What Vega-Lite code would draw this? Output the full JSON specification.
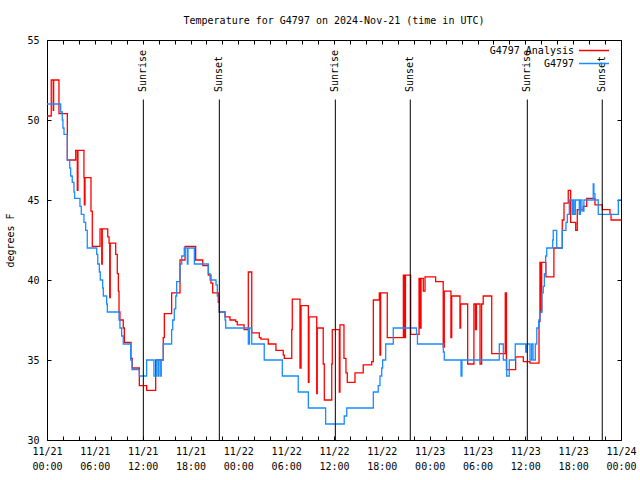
{
  "$schema": "https://vega.github.io/schema/vega-lite/v6.json",
  "width": 574,
  "height": 400,
  "autosize": "none",
  "padding": {"left": 47, "top": 40, "right": 19, "bottom": 40},
  "background": "white",
  "title": {"text": "Temperature for G4797 on 2024-Nov-21 (time in UTC)", "anchor": "middle", "frame": "group", "offset": 9},
  "datasets": {
    "analysis": [
      {"t": "2024-11-21T00:00Z", "v": 50.25}, {"t": "2024-11-21T00:32Z", "v": 52.5}, {"t": "2024-11-21T00:47Z", "v": 50.6}, {"t": "2024-11-21T00:50Z", "v": 52.5},
      {"t": "2024-11-21T01:30Z", "v": 50.4}, {"t": "2024-11-21T02:33Z", "v": 47.5}, {"t": "2024-11-21T03:36Z", "v": 48.1}, {"t": "2024-11-21T03:48Z", "v": 45.6},
      {"t": "2024-11-21T03:53Z", "v": 48.1}, {"t": "2024-11-21T04:38Z", "v": 46.4}, {"t": "2024-11-21T04:41Z", "v": 44.7}, {"t": "2024-11-21T04:46Z", "v": 46.4},
      {"t": "2024-11-21T05:31Z", "v": 44.3}, {"t": "2024-11-21T05:41Z", "v": 42.1}, {"t": "2024-11-21T06:39Z", "v": 43.2}, {"t": "2024-11-21T06:52Z", "v": 41.0},
      {"t": "2024-11-21T06:56Z", "v": 43.2}, {"t": "2024-11-21T07:37Z", "v": 42.7}, {"t": "2024-11-21T07:47Z", "v": 42.3}, {"t": "2024-11-21T07:52Z", "v": 38.9},
      {"t": "2024-11-21T07:56Z", "v": 42.3}, {"t": "2024-11-21T08:37Z", "v": 41.6}, {"t": "2024-11-21T08:49Z", "v": 40.4}, {"t": "2024-11-21T08:57Z", "v": 39.3},
      {"t": "2024-11-21T09:02Z", "v": 38.0}, {"t": "2024-11-21T09:09Z", "v": 37.5}, {"t": "2024-11-21T09:34Z", "v": 37.0}, {"t": "2024-11-21T09:42Z", "v": 36.1},
      {"t": "2024-11-21T10:32Z", "v": 35.1}, {"t": "2024-11-21T10:42Z", "v": 34.5}, {"t": "2024-11-21T11:35Z", "v": 33.4}, {"t": "2024-11-21T12:30Z", "v": 33.1},
      {"t": "2024-11-21T13:38Z", "v": 35.0}, {"t": "2024-11-21T14:35Z", "v": 36.4}, {"t": "2024-11-21T14:43Z", "v": 37.9}, {"t": "2024-11-21T15:38Z", "v": 39.2},
      {"t": "2024-11-21T16:41Z", "v": 41.25}, {"t": "2024-11-21T17:19Z", "v": 42.1}, {"t": "2024-11-21T18:39Z", "v": 41.25}, {"t": "2024-11-21T19:32Z", "v": 40.9},
      {"t": "2024-11-21T20:14Z", "v": 40.3}, {"t": "2024-11-21T20:34Z", "v": 39.8}, {"t": "2024-11-21T20:47Z", "v": 39.2}, {"t": "2024-11-21T21:29Z", "v": 38.6},
      {"t": "2024-11-21T21:37Z", "v": 38.0}, {"t": "2024-11-21T22:20Z", "v": 37.7}, {"t": "2024-11-21T22:57Z", "v": 37.5}, {"t": "2024-11-21T23:40Z", "v": 37.4},
      {"t": "2024-11-21T23:52Z", "v": 37.2}, {"t": "2024-11-22T00:43Z", "v": 36.9}, {"t": "2024-11-22T01:15Z", "v": 40.5}, {"t": "2024-11-22T01:41Z", "v": 36.7},
      {"t": "2024-11-22T02:38Z", "v": 36.4}, {"t": "2024-11-22T02:50Z", "v": 36.3}, {"t": "2024-11-22T03:45Z", "v": 36.0}, {"t": "2024-11-22T04:43Z", "v": 35.6},
      {"t": "2024-11-22T05:38Z", "v": 35.3}, {"t": "2024-11-22T05:46Z", "v": 35.1}, {"t": "2024-11-22T06:42Z", "v": 36.9}, {"t": "2024-11-22T06:46Z", "v": 38.8},
      {"t": "2024-11-22T07:44Z", "v": 34.5}, {"t": "2024-11-22T07:52Z", "v": 38.4}, {"t": "2024-11-22T08:47Z", "v": 33.6}, {"t": "2024-11-22T08:52Z", "v": 37.7},
      {"t": "2024-11-22T09:50Z", "v": 32.9}, {"t": "2024-11-22T09:54Z", "v": 37.0}, {"t": "2024-11-22T10:39Z", "v": 34.75}, {"t": "2024-11-22T10:47Z", "v": 32.5},
      {"t": "2024-11-22T11:43Z", "v": 34.75}, {"t": "2024-11-22T11:47Z", "v": 36.9}, {"t": "2024-11-22T12:40Z", "v": 33.0}, {"t": "2024-11-22T12:45Z", "v": 37.2},
      {"t": "2024-11-22T13:15Z", "v": 35.1}, {"t": "2024-11-22T13:30Z", "v": 34.2}, {"t": "2024-11-22T13:40Z", "v": 33.6}, {"t": "2024-11-22T14:38Z", "v": 34.2},
      {"t": "2024-11-22T15:40Z", "v": 34.7}, {"t": "2024-11-22T16:44Z", "v": 34.9}, {"t": "2024-11-22T16:56Z", "v": 38.75}, {"t": "2024-11-22T17:41Z", "v": 39.2},
      {"t": "2024-11-22T17:46Z", "v": 35.3}, {"t": "2024-11-22T17:51Z", "v": 39.2}, {"t": "2024-11-22T18:41Z", "v": 36.4}, {"t": "2024-11-22T20:42Z", "v": 40.3},
      {"t": "2024-11-22T20:51Z", "v": 36.4}, {"t": "2024-11-22T20:58Z", "v": 40.3}, {"t": "2024-11-22T21:37Z", "v": 36.6}, {"t": "2024-11-22T22:40Z", "v": 40.1},
      {"t": "2024-11-22T22:47Z", "v": 37.0}, {"t": "2024-11-22T22:55Z", "v": 40.1}, {"t": "2024-11-22T23:12Z", "v": 39.3}, {"t": "2024-11-22T23:25Z", "v": 40.2},
      {"t": "2024-11-23T00:45Z", "v": 39.9}, {"t": "2024-11-23T01:42Z", "v": 35.8}, {"t": "2024-11-23T01:50Z", "v": 39.3}, {"t": "2024-11-23T02:40Z", "v": 36.4},
      {"t": "2024-11-23T02:46Z", "v": 39.0}, {"t": "2024-11-23T03:48Z", "v": 37.0}, {"t": "2024-11-23T03:53Z", "v": 38.5}, {"t": "2024-11-23T04:46Z", "v": 34.75},
      {"t": "2024-11-23T05:33Z", "v": 38.5}, {"t": "2024-11-23T05:45Z", "v": 36.9}, {"t": "2024-11-23T05:52Z", "v": 38.5}, {"t": "2024-11-23T06:19Z", "v": 34.75},
      {"t": "2024-11-23T06:31Z", "v": 38.5}, {"t": "2024-11-23T06:43Z", "v": 39.0}, {"t": "2024-11-23T07:47Z", "v": 35.4}, {"t": "2024-11-23T09:29Z", "v": 39.2},
      {"t": "2024-11-23T09:38Z", "v": 34.4}, {"t": "2024-11-23T10:47Z", "v": 35.2}, {"t": "2024-11-23T11:45Z", "v": 34.9}, {"t": "2024-11-23T12:35Z", "v": 34.8},
      {"t": "2024-11-23T13:43Z", "v": 37.4}, {"t": "2024-11-23T13:50Z", "v": 41.1}, {"t": "2024-11-23T13:58Z", "v": 38.0}, {"t": "2024-11-23T14:03Z", "v": 41.1},
      {"t": "2024-11-23T14:35Z", "v": 40.2}, {"t": "2024-11-23T15:35Z", "v": 42.0}, {"t": "2024-11-23T16:38Z", "v": 43.75}, {"t": "2024-11-23T16:51Z", "v": 44.8},
      {"t": "2024-11-23T17:23Z", "v": 45.6}, {"t": "2024-11-23T17:41Z", "v": 43.6}, {"t": "2024-11-23T18:19Z", "v": 43.1}, {"t": "2024-11-23T18:31Z", "v": 44.4},
      {"t": "2024-11-23T19:16Z", "v": 44.6}, {"t": "2024-11-23T19:42Z", "v": 45.1}, {"t": "2024-11-23T20:44Z", "v": 44.7}, {"t": "2024-11-23T21:39Z", "v": 44.4},
      {"t": "2024-11-23T22:37Z", "v": 44.1}, {"t": "2024-11-23T22:45Z", "v": 43.75}, {"t": "2024-11-24T00:00Z", "v": 43.75}
    ],
    "obs": [
      {"t": "2024-11-21T00:00Z", "v": 51.0}, {"t": "2024-11-21T01:43Z", "v": 50.5}, {"t": "2024-11-21T01:55Z", "v": 50.0}, {"t": "2024-11-21T02:00Z", "v": 49.5},
      {"t": "2024-11-21T02:08Z", "v": 49.1}, {"t": "2024-11-21T02:33Z", "v": 47.5}, {"t": "2024-11-21T02:51Z", "v": 47.0}, {"t": "2024-11-21T02:58Z", "v": 46.5},
      {"t": "2024-11-21T03:10Z", "v": 46.1}, {"t": "2024-11-21T03:23Z", "v": 45.5}, {"t": "2024-11-21T03:28Z", "v": 45.1}, {"t": "2024-11-21T04:08Z", "v": 44.6},
      {"t": "2024-11-21T04:18Z", "v": 44.1}, {"t": "2024-11-21T04:38Z", "v": 43.6}, {"t": "2024-11-21T04:51Z", "v": 43.1}, {"t": "2024-11-21T05:03Z", "v": 42.0},
      {"t": "2024-11-21T06:14Z", "v": 41.6}, {"t": "2024-11-21T06:22Z", "v": 41.0}, {"t": "2024-11-21T06:34Z", "v": 40.5}, {"t": "2024-11-21T06:41Z", "v": 40.0},
      {"t": "2024-11-21T06:59Z", "v": 39.5}, {"t": "2024-11-21T07:04Z", "v": 39.0}, {"t": "2024-11-21T07:29Z", "v": 38.5}, {"t": "2024-11-21T07:34Z", "v": 38.0},
      {"t": "2024-11-21T09:02Z", "v": 37.5}, {"t": "2024-11-21T09:09Z", "v": 37.0}, {"t": "2024-11-21T09:22Z", "v": 36.5}, {"t": "2024-11-21T09:34Z", "v": 36.0},
      {"t": "2024-11-21T10:30Z", "v": 35.0}, {"t": "2024-11-21T10:40Z", "v": 34.4}, {"t": "2024-11-21T11:35Z", "v": 34.0}, {"t": "2024-11-21T12:30Z", "v": 35.0},
      {"t": "2024-11-21T13:25Z", "v": 34.0}, {"t": "2024-11-21T13:46Z", "v": 35.0}, {"t": "2024-11-21T13:58Z", "v": 34.0}, {"t": "2024-11-21T14:03Z", "v": 35.0},
      {"t": "2024-11-21T14:16Z", "v": 34.0}, {"t": "2024-11-21T14:20Z", "v": 35.0}, {"t": "2024-11-21T14:35Z", "v": 36.0}, {"t": "2024-11-21T15:38Z", "v": 36.9},
      {"t": "2024-11-21T15:46Z", "v": 37.5}, {"t": "2024-11-21T15:58Z", "v": 38.2}, {"t": "2024-11-21T16:09Z", "v": 39.0}, {"t": "2024-11-21T16:16Z", "v": 39.9},
      {"t": "2024-11-21T16:41Z", "v": 41.0}, {"t": "2024-11-21T16:54Z", "v": 41.5}, {"t": "2024-11-21T17:13Z", "v": 42.0}, {"t": "2024-11-21T17:36Z", "v": 41.0},
      {"t": "2024-11-21T17:41Z", "v": 42.0}, {"t": "2024-11-21T18:29Z", "v": 41.0}, {"t": "2024-11-21T20:14Z", "v": 40.4}, {"t": "2024-11-21T20:27Z", "v": 40.0},
      {"t": "2024-11-21T21:12Z", "v": 39.7}, {"t": "2024-11-21T21:22Z", "v": 39.0}, {"t": "2024-11-21T21:37Z", "v": 38.0}, {"t": "2024-11-21T22:20Z", "v": 37.5},
      {"t": "2024-11-21T22:25Z", "v": 37.0}, {"t": "2024-11-22T01:15Z", "v": 36.0}, {"t": "2024-11-22T01:24Z", "v": 37.0}, {"t": "2024-11-22T01:41Z", "v": 36.0},
      {"t": "2024-11-22T03:15Z", "v": 35.0}, {"t": "2024-11-22T05:31Z", "v": 34.0}, {"t": "2024-11-22T07:31Z", "v": 33.0}, {"t": "2024-11-22T08:47Z", "v": 32.0},
      {"t": "2024-11-22T10:57Z", "v": 31.0}, {"t": "2024-11-22T13:17Z", "v": 31.5}, {"t": "2024-11-22T13:36Z", "v": 32.0}, {"t": "2024-11-22T16:56Z", "v": 33.0},
      {"t": "2024-11-22T17:33Z", "v": 33.4}, {"t": "2024-11-22T17:46Z", "v": 34.0}, {"t": "2024-11-22T17:59Z", "v": 34.5}, {"t": "2024-11-22T18:06Z", "v": 35.0},
      {"t": "2024-11-22T18:29Z", "v": 36.0}, {"t": "2024-11-22T19:26Z", "v": 37.0}, {"t": "2024-11-22T22:21Z", "v": 36.6}, {"t": "2024-11-22T22:28Z", "v": 36.0},
      {"t": "2024-11-23T01:43Z", "v": 35.5}, {"t": "2024-11-23T01:50Z", "v": 35.0}, {"t": "2024-11-23T03:56Z", "v": 34.0}, {"t": "2024-11-23T04:03Z", "v": 35.0},
      {"t": "2024-11-23T08:44Z", "v": 36.0}, {"t": "2024-11-23T09:14Z", "v": 35.0}, {"t": "2024-11-23T09:40Z", "v": 34.0}, {"t": "2024-11-23T09:59Z", "v": 35.0},
      {"t": "2024-11-23T10:44Z", "v": 36.0}, {"t": "2024-11-23T12:03Z", "v": 35.5}, {"t": "2024-11-23T12:12Z", "v": 36.0}, {"t": "2024-11-23T12:35Z", "v": 35.0},
      {"t": "2024-11-23T12:47Z", "v": 36.0}, {"t": "2024-11-23T12:58Z", "v": 35.0}, {"t": "2024-11-23T13:15Z", "v": 36.0}, {"t": "2024-11-23T13:26Z", "v": 37.0},
      {"t": "2024-11-23T13:41Z", "v": 37.5}, {"t": "2024-11-23T13:50Z", "v": 38.0}, {"t": "2024-11-23T14:05Z", "v": 39.2}, {"t": "2024-11-23T14:15Z", "v": 39.6},
      {"t": "2024-11-23T14:23Z", "v": 40.4}, {"t": "2024-11-23T14:33Z", "v": 41.5}, {"t": "2024-11-23T14:41Z", "v": 42.0}, {"t": "2024-11-23T15:26Z", "v": 42.5},
      {"t": "2024-11-23T15:30Z", "v": 43.1}, {"t": "2024-11-23T15:56Z", "v": 42.0}, {"t": "2024-11-23T16:38Z", "v": 43.1}, {"t": "2024-11-23T17:06Z", "v": 43.6},
      {"t": "2024-11-23T17:16Z", "v": 44.1}, {"t": "2024-11-23T17:31Z", "v": 45.0}, {"t": "2024-11-23T17:53Z", "v": 44.1}, {"t": "2024-11-23T18:01Z", "v": 45.0},
      {"t": "2024-11-23T18:06Z", "v": 44.1}, {"t": "2024-11-23T18:17Z", "v": 45.0}, {"t": "2024-11-23T18:46Z", "v": 44.1}, {"t": "2024-11-23T18:54Z", "v": 45.0},
      {"t": "2024-11-23T19:06Z", "v": 44.3}, {"t": "2024-11-23T19:21Z", "v": 45.0}, {"t": "2024-11-23T20:31Z", "v": 46.0}, {"t": "2024-11-23T20:36Z", "v": 45.4},
      {"t": "2024-11-23T20:44Z", "v": 45.0}, {"t": "2024-11-23T21:09Z", "v": 44.1}, {"t": "2024-11-23T23:40Z", "v": 45.0}, {"t": "2024-11-24T00:00Z", "v": 45.0}
    ],
    "sun": [
      {"t": "2024-11-21T12:05Z", "label": "Sunrise"}, {"t": "2024-11-21T21:37Z", "label": "Sunset"},
      {"t": "2024-11-22T12:10Z", "label": "Sunrise"}, {"t": "2024-11-22T21:34Z", "label": "Sunset"},
      {"t": "2024-11-23T12:15Z", "label": "Sunrise"}, {"t": "2024-11-23T21:39Z", "label": "Sunset"}
    ]
  },
  "layer": [
    {
      "data": {"name": "analysis"},
      "mark": {"type": "line", "interpolate": "step-after", "strokeWidth": 1.3},
      "encoding": {
        "x": {
          "field": "t", "type": "temporal",
          "scale": {"type": "utc", "domain": [1732147200000, 1732406400000], "nice": false},
          "axis": {"orient": "bottom", "title": null,
            "values": [1732147200000, 1732154400000, 1732161600000, 1732168800000, 1732176000000, 1732183200000, 1732190400000, 1732197600000, 1732204800000, 1732212000000, 1732219200000, 1732226400000, 1732233600000, 1732240800000, 1732248000000, 1732255200000, 1732262400000, 1732269600000, 1732276800000, 1732284000000, 1732291200000, 1732298400000, 1732305600000, 1732312800000, 1732320000000, 1732327200000, 1732334400000, 1732341600000, 1732348800000, 1732356000000, 1732363200000, 1732370400000, 1732377600000, 1732384800000, 1732392000000, 1732399200000, 1732406400000],
            "tickSize": -4, "labelPadding": 10, "labelBaseline": "top", "labelLineHeight": 15, "labelOverlap": false, "labelFlush": false, "labelAngle": 0,
            "labelExpr": "utchours(datum.value) % 6 == 0 ? [utcFormat(datum.value, '%m/%d'), utcFormat(datum.value, '%H:%M')] : ''"}
        },
        "y": {
          "field": "v", "type": "quantitative",
          "scale": {"domain": [30, 55], "nice": false, "zero": false},
          "axis": {"orient": "left", "values": [30, 35, 40, 45, 50, 55], "tickSize": -4, "labelPadding": 12, "title": "degrees F", "titleX": -37, "titleY": 200, "titleAngle": 270, "titleBaseline": "middle", "titleAlign": "center"}
        },
        "color": {
          "datum": "G4797 Analysis",
          "scale": {"domain": ["G4797 Analysis", "G4797"], "range": ["#ff0000", "#1a8cff"]},
          "legend": {"orient": "none", "legendX": 541, "legendY": 4.5, "title": null, "symbolType": "M-3,0H3", "symbolSize": 100, "symbolStrokeWidth": 1.5, "labelAlign": "right", "labelOffset": -26, "rowPadding": 2, "padding": 0}
        }
      }
    },
    {
      "data": {"name": "obs"},
      "mark": {"type": "line", "interpolate": "step-after", "strokeWidth": 1.3},
      "encoding": {
        "x": {"field": "t", "type": "temporal", "axis": {"orient": "top", "title": null, "labels": false, "tickSize": -4,
          "values": [1732147200000, 1732154400000, 1732161600000, 1732168800000, 1732176000000, 1732183200000, 1732190400000, 1732197600000, 1732204800000, 1732212000000, 1732219200000, 1732226400000, 1732233600000, 1732240800000, 1732248000000, 1732255200000, 1732262400000, 1732269600000, 1732276800000, 1732284000000, 1732291200000, 1732298400000, 1732305600000, 1732312800000, 1732320000000, 1732327200000, 1732334400000, 1732341600000, 1732348800000, 1732356000000, 1732363200000, 1732370400000, 1732377600000, 1732384800000, 1732392000000, 1732399200000, 1732406400000]}},
        "y": {"field": "v", "type": "quantitative", "axis": {"orient": "right", "title": null, "labels": false, "values": [30, 35, 40, 45, 50, 55], "tickSize": -4}},
        "color": {"datum": "G4797"}
      }
    },
    {
      "data": {"name": "sun"},
      "mark": {"type": "rule", "color": "black", "strokeWidth": 1},
      "encoding": {
        "x": {"field": "t", "type": "temporal", "axis": null},
        "y": {"datum": 30, "type": "quantitative", "axis": null},
        "y2": {"datum": 51.28}
      }
    },
    {
      "data": {"name": "sun"},
      "mark": {"type": "text", "angle": 270, "align": "left", "baseline": "middle", "fontSize": 10, "color": "black"},
      "encoding": {
        "x": {"field": "t", "type": "temporal", "axis": null},
        "y": {"datum": 51.75, "type": "quantitative", "axis": null},
        "text": {"field": "label"}
      }
    }
  ],
  "resolve": {"axis": {"x": "independent", "y": "independent"}},
  "config": {
    "font": "DejaVu Sans Mono",
    "view": {"stroke": "black", "strokeWidth": 1},
    "axis": {"domain": false, "grid": false, "labelFontSize": 10, "labelColor": "black", "tickColor": "black", "tickWidth": 1, "titleFontSize": 10, "titleFontWeight": "normal", "titleColor": "black"},
    "legend": {"labelFontSize": 10, "labelColor": "black"},
    "title": {"fontSize": 10, "fontWeight": "normal", "color": "black"}
  }
}
